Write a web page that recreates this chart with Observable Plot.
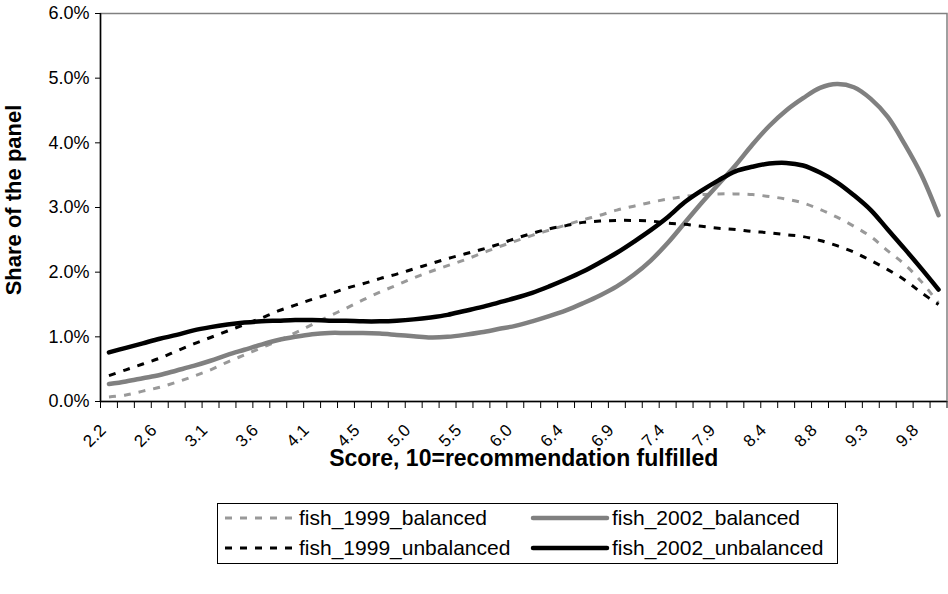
<!DOCTYPE html>
<html><head><meta charset="utf-8">
<script src="https://cdn.jsdelivr.net/npm/d3@7"></script>
<script src="https://cdn.jsdelivr.net/npm/@observablehq/plot@0.6"></script>
<style>
body{margin:0;background:#fff;font-family:"Liberation Sans",Arial,sans-serif;}
#wrap{position:relative;width:948px;height:594px;overflow:hidden;}
#ytitle{position:absolute;left:14px;top:200px;transform:translate(-50%,-50%) rotate(-90deg);font-weight:bold;font-size:22px;white-space:nowrap;color:#000;}
#legend{position:absolute;left:217px;top:503px;width:621px;height:61px;border:1px solid #000;box-sizing:border-box;background:#fff;}
.item{position:absolute;height:26px;display:flex;align-items:center;font-size:21px;color:#000;white-space:nowrap;}
.item svg{display:block;}
</style></head><body><div id="wrap"></div>
<script>
// x categories: 50 score steps, labelled every third step
const nCategories = 50;
const tickLabels = ["2.2","2.6","3.1","3.6","4.1","4.5","5.0","5.5","6.0","6.4","6.9","7.4","7.9","8.4","8.8","9.3","9.8"];
const yTicks = [0, 1, 2, 3, 4, 5, 6];
const xTitle = "Score, 10=recommendation fulfilled";
const yTitle = "Share of the panel";

const seriesNames = ["fish_1999_balanced", "fish_2002_balanced", "fish_1999_unbalanced", "fish_2002_unbalanced"];

// share of the panel, in percent
const fish1999Balanced = [
  0.07,0.10,0.16,0.22,0.30,0.39,0.49,0.61,0.72,0.83,
  0.94,1.06,1.19,1.32,1.44,1.57,1.69,1.80,1.91,2.01,
  2.10,2.19,2.29,2.39,2.48,2.57,2.65,2.73,2.81,2.88,
  2.96,3.02,3.08,3.13,3.17,3.20,3.21,3.21,3.20,3.17,
  3.13,3.07,2.97,2.85,2.71,2.55,2.33,2.12,1.85,1.52];
const fish2002Balanced = [
  0.27,0.31,0.36,0.41,0.48,0.55,0.63,0.72,0.80,0.88,
  0.95,1.00,1.04,1.06,1.06,1.06,1.05,1.03,1.01,0.99,
  1.00,1.03,1.07,1.12,1.17,1.24,1.32,1.41,1.52,1.64,
  1.78,1.96,2.18,2.45,2.76,3.07,3.36,3.65,3.97,4.26,
  4.50,4.69,4.85,4.91,4.86,4.68,4.40,3.98,3.50,2.88];
const fish1999Unbalanced = [
  0.40,0.49,0.58,0.67,0.78,0.89,0.99,1.09,1.19,1.29,
  1.40,1.49,1.58,1.66,1.75,1.82,1.90,1.97,2.05,2.13,
  2.21,2.28,2.35,2.43,2.52,2.60,2.67,2.72,2.77,2.79,
  2.80,2.80,2.79,2.76,2.74,2.71,2.68,2.66,2.63,2.61,
  2.58,2.55,2.49,2.41,2.31,2.18,2.04,1.88,1.68,1.50];
const fish2002Unbalanced = [
  0.76,0.83,0.90,0.97,1.03,1.10,1.15,1.19,1.22,1.24,
  1.25,1.26,1.26,1.25,1.25,1.24,1.24,1.25,1.27,1.30,
  1.34,1.40,1.46,1.53,1.60,1.68,1.78,1.89,2.01,2.15,
  2.30,2.47,2.65,2.85,3.08,3.26,3.42,3.56,3.63,3.68,
  3.69,3.65,3.54,3.39,3.19,2.96,2.66,2.36,2.05,1.73];

const seriesValues = [fish1999Balanced, fish2002Balanced, fish1999Unbalanced, fish2002Unbalanced];
const seriesStyle = [
  {stroke: "#999999", strokeWidth: 3, strokeDasharray: "7,8"},
  {stroke: "#808080", strokeWidth: 4.5, strokeDasharray: null},
  {stroke: "#000000", strokeWidth: 3, strokeDasharray: "7,8"},
  {stroke: "#000000", strokeWidth: 4.5, strokeDasharray: null}
];

const rows = seriesNames.map((name, s) => seriesValues[s].map((v, i) => ({series: name, i, v})));
const xDomain = [-0.5, nCategories - 0.5];
const boundaries = d3.range(nCategories + 1).map(k => k - 0.5);
const labelIdx = tickLabels.map((_, k) => k * 3);

const font = "'Liberation Sans', Arial, sans-serif";

const plot = Plot.plot({
  width: 948,
  height: 495,
  marginTop: 13,
  marginLeft: 100,
  marginRight: 1.5,
  marginBottom: 94,
  style: {fontFamily: font, fontSize: "18px", color: "#000", background: "#fff", overflow: "visible"},
  x: {domain: xDomain},
  y: {domain: [0, 6]},
  marks: [
    Plot.frame({stroke: "#808080", strokeWidth: 1.5}),
    ...rows.map((data, s) => Plot.line(data, {
      x: "i", y: "v", curve: "catmull-rom",
      stroke: seriesStyle[s].stroke,
      strokeWidth: seriesStyle[s].strokeWidth,
      strokeDasharray: seriesStyle[s].strokeDasharray,
      strokeLinecap: seriesStyle[s].strokeDasharray ? "butt" : "round",
      strokeLinejoin: "round"
    })),
    Plot.ruleY([0], {stroke: "#000", strokeWidth: 1.5}),
    Plot.ruleX([xDomain[0]], {stroke: "#000", strokeWidth: 1.5}),
    Plot.axisY({ticks: yTicks, tickFormat: d => d.toFixed(1) + "%", tickSize: 5, tickPadding: 6, fontSize: 18, label: null, stroke: "#000"}),
    Plot.axisX({ticks: boundaries, tickSize: 7, tickFormat: () => "", label: null, stroke: "#000"}),
    Plot.axisX({ticks: labelIdx, tickFormat: d => tickLabels[Math.round(d / 3)], tickSize: 0, tickPadding: 0, tickRotate: -45, dy: 26, dx: -6, fontSize: 17, label: null}),
    Plot.text([xTitle], {frameAnchor: "bottom", dy: 64, fontWeight: "bold", fontSize: 23, fill: "#000"})
  ]
});

const wrap = document.getElementById("wrap");
wrap.appendChild(plot);

const yt = document.createElement("div");
yt.id = "ytitle";
yt.textContent = yTitle;
wrap.appendChild(yt);

// legend
const legend = document.createElement("div");
legend.id = "legend";
wrap.appendChild(legend);
const legendPos = [
  {left: 7, top: 1, sample: 68, gap: 6},
  {left: 312, top: 1, sample: 80, gap: 2},
  {left: 7, top: 31, sample: 68, gap: 6},
  {left: 312, top: 31, sample: 80, gap: 2}
];
seriesNames.forEach((name, s) => {
  const p = legendPos[s];
  const st = seriesStyle[s];
  const item = document.createElement("div");
  item.className = "item";
  item.style.left = p.left + "px";
  item.style.top = p.top + "px";
  const ns = "http://www.w3.org/2000/svg";
  const svg = document.createElementNS(ns, "svg");
  svg.setAttribute("width", p.sample);
  svg.setAttribute("height", 12);
  const ln = document.createElementNS(ns, "line");
  ln.setAttribute("x1", st.strokeDasharray ? 0 : 3);
  ln.setAttribute("x2", st.strokeDasharray ? p.sample : p.sample - 3);
  ln.setAttribute("y1", 6); ln.setAttribute("y2", 6);
  ln.setAttribute("stroke", st.stroke);
  ln.setAttribute("stroke-width", st.strokeWidth);
  if (st.strokeDasharray) ln.setAttribute("stroke-dasharray", st.strokeDasharray);
  else ln.setAttribute("stroke-linecap", "round");
  svg.appendChild(ln);
  item.appendChild(svg);
  const t = document.createElement("span");
  t.textContent = name;
  t.style.marginLeft = p.gap + "px";
  item.appendChild(t);
  legend.appendChild(item);
});
</script></body></html>
